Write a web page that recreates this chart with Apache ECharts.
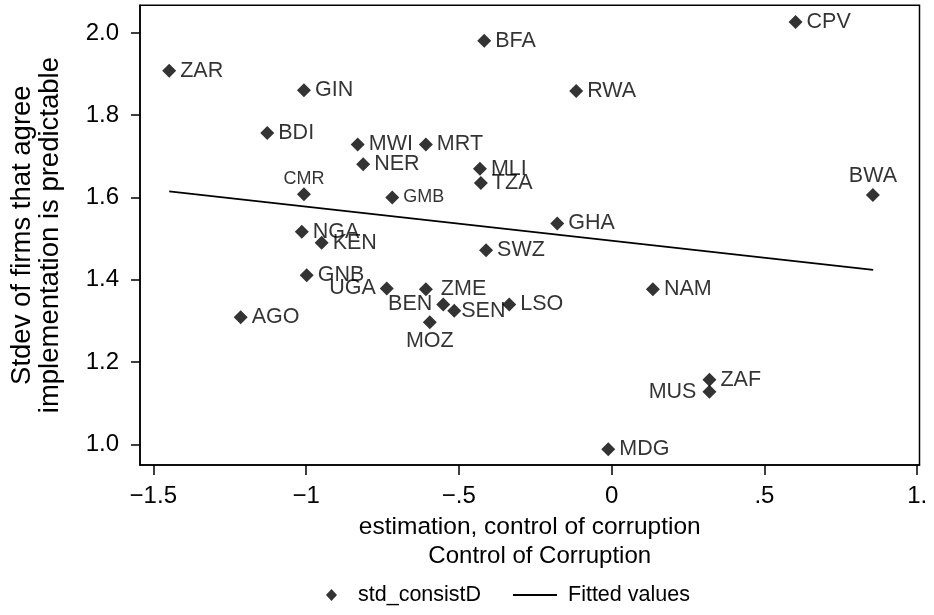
<!DOCTYPE html>
<html>
<head>
<meta charset="utf-8">
<script src="https://cdn.jsdelivr.net/npm/echarts@6/dist/echarts.min.js"></script>
<style>
  html, body { margin: 0; padding: 0; background: #fff; }
  #chart { width: 934px; height: 615px; }
</style>
</head>
<body>
<div id="chart"></div>
<script>
// Country codes with control-of-corruption estimate (x) and
// standard deviation of firms agreeing implementation is predictable (y)
const countries = ['ZAR','GIN','BDI','MWI','MRT','NER','CMR','GMB','MLI','TZA','BFA','NGA','KEN',
                   'CPV','RWA','BWA','GHA','SWZ','GNB','UGA','ZME','BEN','SEN','MOZ','AGO','LSO',
                   'NAM','ZAF','MUS','MDG'];
const corruption = [-1.448,-1.007,-1.127,-0.831,-0.608,-0.813,-1.007,-0.718,-0.431,-0.428,-0.417,-1.014,-0.949,
                    0.602,-0.116,0.855,-0.178,-0.411,-0.998,-0.736,-0.608,-0.551,-0.515,-0.595,-1.214,-0.335,
                    0.135,0.320,0.320,-0.011];
const stdConsist = [1.908,1.861,1.757,1.729,1.729,1.681,1.608,1.600,1.670,1.635,1.981,1.517,1.490,
                    2.027,1.859,1.606,1.537,1.472,1.411,1.379,1.377,1.340,1.325,1.297,1.309,1.340,
                    1.377,1.157,1.128,0.988];

// Linear fit endpoints, spanning the observed range of x
const fittedX = [-1.448, 0.856];
const fittedY = [1.615, 1.424];

// Axis ticks and their labels
const xTicks = [-1.5, -1, -0.5, 0, 0.5, 1];
const xTickLabels = ['\u22121.5', '\u22121', '\u2212.5', '0', '.5', '1.'];
const yTicks = [1.0, 1.2, 1.4, 1.6, 1.8, 2.0];
const yTickLabels = ['1.0', '1.2', '1.4', '1.6', '1.8', '2.0'];

const FONT = '"Liberation Sans", Arial, Helvetica, sans-serif';

// Marker label placement for crowded points (default: to the right)
const labelPlacement = {
  CMR: { position: 'top', distance: -1, offset: [-12, 0], fontSize: 18 },
  GMB: { fontSize: 18 },
  BWA: { position: 'top', distance: 1, offset: [1, 0] },
  KEN: { offset: [-1, 8] },
  TZA: { offset: [0, 8] },
  SWZ: { offset: [0, 5] },
  UGA: { position: 'left', offset: [0, 10] },
  ZME: { distance: 8, offset: [0, -5] },
  BEN: { position: 'left', distance: 4, offset: [0, 3] },
  SEN: { distance: 0, offset: [-1, 14] },
  MOZ: { position: 'bottom', distance: 1, offset: [0, 0] },
  MUS: { position: 'left', distance: 6, offset: [0, 1] },
  ZAF: { offset: [0, -3] }
};

const points = countries.map((c, i) => {
  const item = { name: c, value: [corruption[i], stdConsist[i]] };
  if (labelPlacement[c]) item.label = labelPlacement[c];
  return item;
});

const chart = echarts.init(document.getElementById('chart'), null, { renderer: 'canvas' });

chart.setOption({
  animation: false,
  backgroundColor: '#fff',
  textStyle: { fontFamily: FONT, color: '#000' },
  grid: {
    left: 140, right: 14.5, top: 5.3, bottom: 150,
    show: true, borderColor: '#000', borderWidth: 1.5,
    containLabel: false, outerBoundsMode: 'none'
  },
  legend: [
    {
      data: [{ name: 'std_consistD', icon: 'diamond' }],
      left: 326, top: 584, padding: 0,
      itemWidth: 11, itemHeight: 12,
      textStyle: { fontFamily: FONT, fontSize: 21.5, color: '#000', padding: [0, 0, 0, 16] }
    },
    {
      data: [{ name: 'Fitted values', icon: 'rect' }],
      left: 513, top: 584, padding: 0,
      itemWidth: 44, itemHeight: 2,
      textStyle: { fontFamily: FONT, fontSize: 21.5, color: '#000', padding: [0, 0, 0, 6] }
    }
  ],
  xAxis: {
    type: 'value',
    min: -1.5435, max: 1.0075,
    name: '{a|estimation, control of corruption}\n{b|Control of Corruption}',
    nameLocation: 'middle', nameGap: 41,
    nameTextStyle: {
      fontFamily: FONT, fontSize: 24.5, color: '#000', lineHeight: 29,
      rich: {
        a: { fontFamily: FONT, fontSize: 24.5, color: '#000', lineHeight: 29 },
        b: { fontFamily: FONT, fontSize: 24, color: '#000', lineHeight: 29, padding: [0, 0, 0, 20] }
      }
    },
    axisLine: { show: true, onZero: false, lineStyle: { color: '#000', width: 1.5 } },
    axisTick: { show: true, length: 10, lineStyle: { color: '#000', width: 1.5 }, customValues: xTicks },
    axisLabel: {
      fontFamily: FONT, fontSize: 24, color: '#000', margin: 19,
      customValues: xTicks,
      formatter: v => xTickLabels[xTicks.findIndex(t => Math.abs(t - v) < 1e-9)]
    },
    splitLine: { show: false }
  },
  yAxis: {
    type: 'value',
    min: 0.9497, max: 2.0673,
    name: 'Stdev of firms that agree\nimplementation is predictable',
    nameLocation: 'middle', nameGap: 76, nameRotate: 90,
    nameTextStyle: { fontFamily: FONT, fontSize: 27.5, color: '#000', lineHeight: 28 },
    axisLine: { show: true, onZero: false, lineStyle: { color: '#000', width: 1.5 } },
    axisTick: { show: true, length: 9, lineStyle: { color: '#000', width: 1.5 }, customValues: yTicks },
    axisLabel: {
      fontFamily: FONT, fontSize: 24, color: '#000', margin: 21,
      customValues: yTicks,
      formatter: v => yTickLabels[yTicks.findIndex(t => Math.abs(t - v) < 1e-9)]
    },
    splitLine: { show: false }
  },
  series: [
    {
      name: 'std_consistD',
      type: 'scatter',
      symbol: 'diamond',
      symbolSize: 14,
      itemStyle: { color: '#000' },
      label: {
        show: true, position: 'right', distance: 4,
        formatter: p => p.name,
        fontFamily: FONT, fontSize: 21.5, color: '#000'
      },
      labelLayout: { hideOverlap: false },
      data: points,
      z: 3
    },
    {
      name: 'Fitted values',
      type: 'line',
      symbol: 'none',
      lineStyle: { color: '#000', width: 1.8 },
      itemStyle: { color: '#000' },
      data: fittedX.map((x, i) => [x, fittedY[i]]),
      z: 2
    }
  ]
});
</script>
</body>
</html>
